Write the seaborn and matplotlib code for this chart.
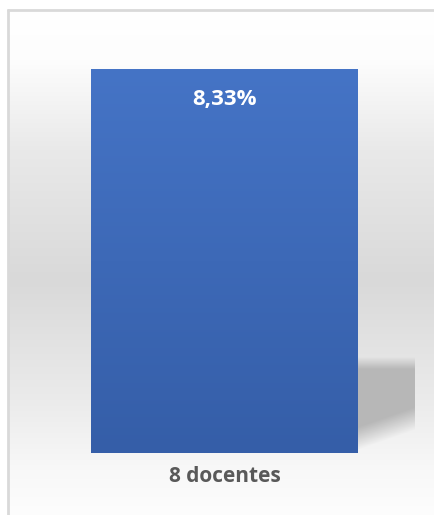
import numpy as np
import matplotlib
matplotlib.use("Agg")
import matplotlib.pyplot as plt
import seaborn as sns
from matplotlib.colors import LinearSegmentedColormap

# Data
categories = ["8 docentes"]
values = [8.33]
value_labels = ["8,33%"]

sns.set_theme(style="white")
plt.rcParams["font.family"] = ["Open Sans", "DejaVu Sans"]

W_PX, H_PX = 435, 515
fig = plt.figure(figsize=(W_PX / 100, H_PX / 100), dpi=100)
fig.patch.set_facecolor("white")

# Background panel with a soft vertical grey gradient (pixel coordinates, y down)
bg = fig.add_axes([0, 0, 1, 1], zorder=0)
bg.set_xlim(0, W_PX)
bg.set_ylim(H_PX, 0)
bg.axis("off")
stops_y = np.array([9, 60, 150, 280, 400, 470, 515])
stops_v = np.array([255, 253, 233, 217, 235, 248, 253]) / 255.0
ys = np.arange(9, H_PX + 1)
grey = np.interp(ys, stops_y, stops_v)
grad = np.repeat(grey[:, None], 2, axis=1)
bg.imshow(np.dstack([grad, grad, grad]), extent=(8, W_PX + 1, H_PX + 1, 9),
          aspect="auto", origin="upper", interpolation="bilinear", zorder=0)
bg.plot([8, 8], [9, H_PX + 1], color="#d9d9d9", lw=2, zorder=1, solid_capstyle="butt")
bg.plot([7, W_PX + 1], [10, 10], color="#d9d9d9", lw=2, zorder=1, solid_capstyle="butt")

# Bar axes
L, R = 30, 419
BOT, TOP = 453, 38
ax = fig.add_axes([L / W_PX, (H_PX - BOT) / H_PX, (R - L) / W_PX, (BOT - TOP) / H_PX], zorder=2)
ax.patch.set_alpha(0)
sns.barplot(x=categories, y=values, width=0.686, color="#4472c4", ax=ax,
            saturation=1, linewidth=0)
ax.set_xlim(-0.5, 0.5)
ax.set_ylim(0, 9)

# Vertical gradient fill on the bar
bar = ax.patches[0]
x0, y0 = bar.get_x(), bar.get_y()
bw, bh = bar.get_width(), bar.get_height()
cmap = LinearSegmentedColormap.from_list("bar", ["#355ea8", "#4574c6"])
g = np.linspace(0, 1, 256)[:, None]
im = ax.imshow(g, cmap=cmap, extent=(x0, x0 + bw, y0, y0 + bh), origin="lower",
               aspect="auto", zorder=3, interpolation="bilinear")
im.set_clip_path(bar)
ax.set_xlim(-0.5, 0.5)
ax.set_ylim(0, 9)

for i, (v, lab) in enumerate(zip(values, value_labels)):
    ax.annotate(lab, xy=(i, v), xytext=(0, -22), textcoords="offset points",
                ha="center", va="center", color="white", fontsize=16,
                fontweight="bold", zorder=5)

sns.despine(ax=ax, left=True, bottom=True)
ax.set_yticks([])
ax.set_xlabel("")
ax.set_ylabel("")
ax.tick_params(axis="x", length=0, pad=9)
for t in ax.get_xticklabels():
    t.set_fontsize(15)
    t.set_fontweight("bold")
    t.set_color("#595959")

# Cast shadow to the lower right of the bar, placed from the bar's pixel extent
fig.canvas.draw()
(bx0, by0), (bx1, by1) = ax.transData.transform([(x0, y0), (x0 + bw, y0 + bh)])
bar_right = bx1
bar_bottom = H_PX - by0
sw, sh = 57, 100
us = np.arange(sw) + 0.5
vs = bar_bottom - sh + np.arange(sh) + 0.5
U, V = np.meshgrid(us, vs)
top_edge = bar_bottom - 96
a_top = np.clip((V - top_edge) / 12.0, 0, 1)
diag = bar_bottom - 26 - 20 * U / sw
a_diag = np.clip(1 - (V - diag) / 23.0, 0, 1)
alpha = a_top * a_diag
shadow = np.zeros((sh, sw, 4))
shadow[..., :3] = 0.72
shadow[..., 3] = alpha
bg.imshow(shadow, extent=(bar_right, bar_right + sw, bar_bottom, bar_bottom - sh),
          origin="upper", aspect="auto", interpolation="bilinear", zorder=2)
bg.set_xlim(0, W_PX)
bg.set_ylim(H_PX, 0)

fig.savefig("out.png", dpi=100, facecolor="white")
